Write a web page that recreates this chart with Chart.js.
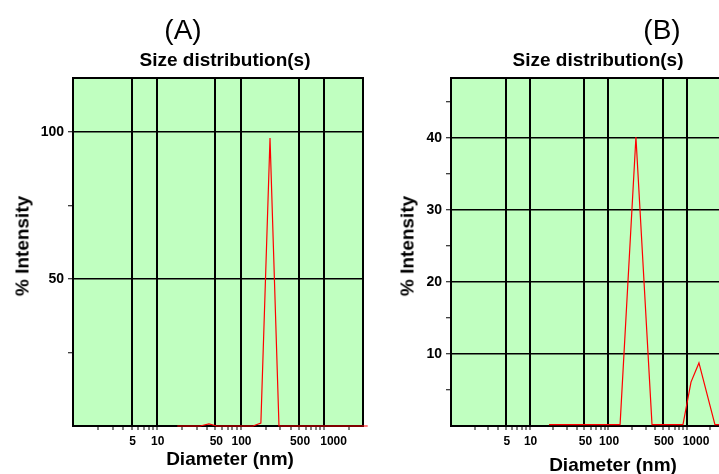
<!DOCTYPE html>
<html>
<head>
<meta charset="utf-8">
<script src="https://cdn.jsdelivr.net/npm/chart.js@4.4.1/dist/chart.umd.min.js"></script>
<style>
  html, body { margin: 0; padding: 0; background: #fff; }
  #wrap { position: relative; width: 719px; height: 474px; overflow: hidden; font-family: "Liberation Sans", Arial, sans-serif; }
  canvas { position: absolute; top: 0; }
  .lbl { position: absolute; white-space: nowrap; color: #000; line-height: 1; }
  .ttl { font-weight: bold; font-size: 19px; transform: translateX(-50%); }
  .pan { font-size: 28px; transform: translateX(-50%); }
  .yt { font-weight: bold; font-size: 19px; transform: translate(-50%, -50%) rotate(-90deg); }
</style>
</head>
<body>
<div id="wrap">
  <canvas id="chartA" width="380" height="474" style="left:0"></canvas>
  <canvas id="chartB" width="345" height="474" style="left:380px"></canvas>

  <div class="lbl pan" style="left:183px; top:16px">(A)</div>
  <div class="lbl pan" style="left:662px; top:16px">(B)</div>
  <div class="lbl ttl" style="left:225px; top:50px">Size distribution(s)</div>
  <div class="lbl ttl" style="left:598px; top:50px">Size distribution(s)</div>
  <div class="lbl ttl" style="left:230px; top:449px">Diameter (nm)</div>
  <div class="lbl ttl" style="left:613px; top:455px">Diameter (nm)</div>
  <div class="lbl yt" style="left:22px; top:246px">% Intensity</div>
  <div class="lbl yt" style="left:407px; top:246px">% Intensity</div>
</div>

<script>
// panel A: diameter (nm) and % intensity
var diamA = [17.6, 33, 42, 52, 141, 175, 225, 288, 3300];
var intA = [0, 0, 0.7, 0, 0, 1, 98, 0, 0];

// panel B
var diamB = [17.7, 142, 226, 362, 897, 1135, 1433, 2290, 3300];
var intB = [0.2, 0.2, 40.1, 0.2, 0.2, 6.1, 8.75, 0.2, 0.2];

// x axis: labelled ticks and the minor ones
var xLabels = [5, 10, 50, 100, 500, 1000];
var xMinor = [2, 3, 4, 5, 6, 7, 8, 9, 10, 20, 30, 40, 50, 60, 70, 80, 90, 100,
              200, 300, 400, 500, 600, 700, 800, 900, 1000, 2000];

// y axes
var yTicksA = [25, 50, 75, 100];
var yLabelsA = [50, 100];
var yTicksB = [5, 10, 15, 20, 25, 30, 35, 40, 45];
var yLabelsB = [10, 20, 30, 40];

var plotBox = {
    id: 'plotBox',
    beforeDraw: function (chart) {
        var a = chart.chartArea, ctx = chart.ctx;
        ctx.save();
        ctx.fillStyle = '#c0ffc0';
        ctx.fillRect(a.left, a.top, a.right - a.left, a.bottom - a.top);
        ctx.restore();
    },
    beforeDatasetsDraw: function (chart) {
        var a = chart.chartArea, ctx = chart.ctx;
        ctx.save();
        ctx.strokeStyle = '#000';
        ctx.lineWidth = 2;
        ctx.strokeRect(a.left, a.top, a.right - a.left, a.bottom - a.top);
        ctx.restore();
    }
};

function xLabel(v) {
    if (xLabels.indexOf(v) < 0) return '';
    // the 1000 label sits a bit to the right of its line, as in the original
    return v === 1000 ? '     1000' : String(v);
}

function makeChart(id, diam, inten, yMax, yTicks, yLabels, yWidth, padRight) {
    var pts = diam.map(function (d, i) { return { x: d, y: inten[i] }; });
    return new Chart(document.getElementById(id), {
        type: 'line',
        data: {
            datasets: [{
                data: pts,
                borderColor: '#ff0000',
                borderWidth: 1.2,
                pointRadius: 0,
                tension: 0,
                fill: false,
                clip: false
            }]
        },
        options: {
            responsive: false,
            animation: false,
            layout: { padding: { top: 78, right: padRight, left: 0, bottom: 0 } },
            plugins: { legend: { display: false }, tooltip: { enabled: false } },
            scales: {
                x: {
                    type: 'logarithmic',
                    min: 1,
                    max: 2900,
                    afterBuildTicks: function (s) {
                        s.ticks = xMinor.map(function (v) { return { value: v }; });
                    },
                    afterFit: function (s) { s.height = 48; },
                    ticks: {
                        autoSkip: false,
                        maxRotation: 0,
                        padding: 4,
                        labelOffset: 1,
                        color: '#000',
                        font: { family: 'Liberation Sans, Arial', size: 12, weight: 'bold' },
                        callback: xLabel
                    },
                    grid: {
                        color: function (c) { return xLabels.indexOf(c.tick && c.tick.value) >= 0 ? '#000' : 'rgba(0,0,0,0)'; },
                        lineWidth: 2,
                        tickColor: '#000',
                        tickLength: 4,
                        tickWidth: 1
                    },
                    border: { display: true, color: '#000', width: 2 }
                },
                y: {
                    min: 0,
                    max: yMax,
                    afterBuildTicks: function (s) {
                        s.ticks = yTicks.map(function (v) { return { value: v }; });
                    },
                    afterFit: function (s) { s.width = yWidth; },
                    ticks: {
                        padding: 4,
                        color: '#000',
                        font: { family: 'Liberation Sans, Arial', size: 14, weight: 'bold' },
                        callback: function (v) { return yLabels.indexOf(v) >= 0 ? String(v) : ''; }
                    },
                    grid: {
                        color: function (c) { return yLabels.indexOf(c.tick && c.tick.value) >= 0 ? '#000' : 'rgba(0,0,0,0)'; },
                        lineWidth: 1.5,
                        tickColor: '#000',
                        tickLength: 5,
                        tickWidth: 1
                    },
                    border: { display: true, color: '#000', width: 2 }
                }
            }
        },
        plugins: [plotBox]
    });
}

makeChart('chartA', diamA, intA, 118.4, yTicksA, yLabelsA, 73, 17);
makeChart('chartB', diamB, intB, 48.3, yTicksB, yLabelsB, 71, 2);
</script>
</body>
</html>
